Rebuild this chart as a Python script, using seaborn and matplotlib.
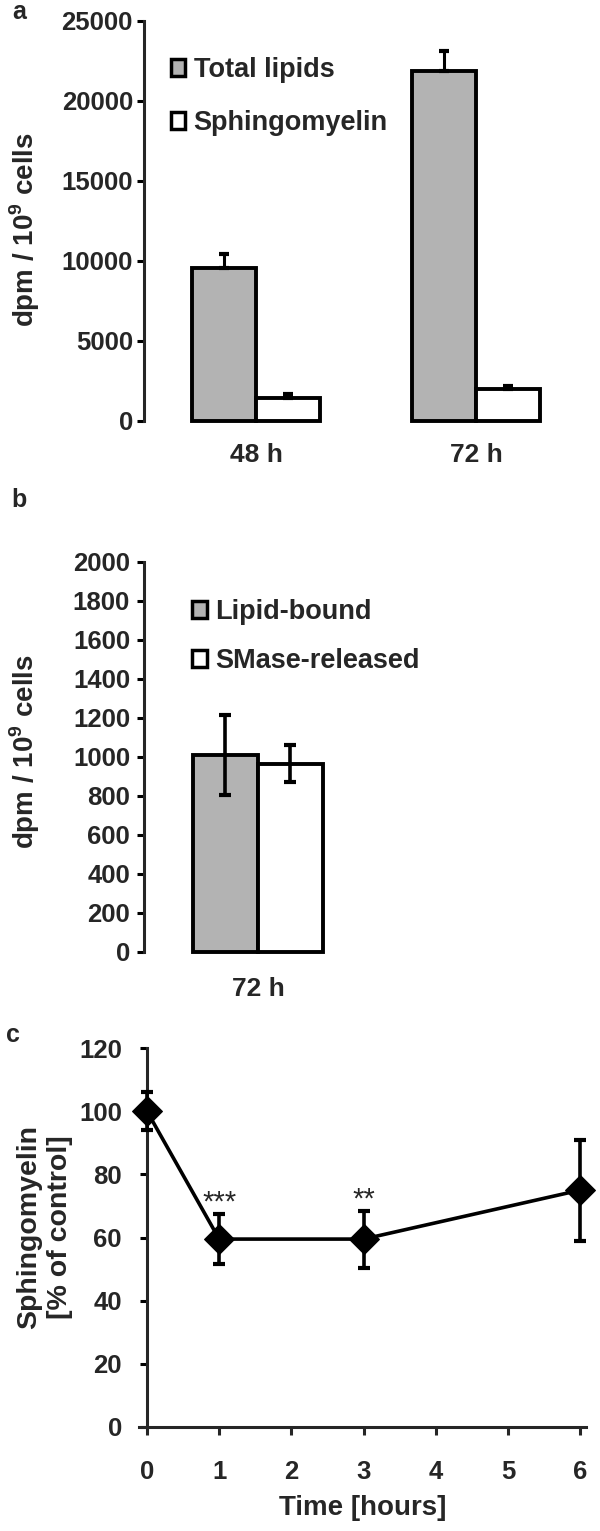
import numpy as np
import pandas as pd
import matplotlib
matplotlib.use("Agg")
import matplotlib.pyplot as plt
from matplotlib.patches import Patch
import seaborn as sns

# panel a: incorporation after 48 h and 72 h
times_a = ["48 h", "72 h"]
total_lipids = [9550, 21900]
total_lipids_err = [870, 1200]
sphingomyelin = [1430, 1970]
sphingomyelin_err = [250, 200]

# panel b: SMase treatment at 72 h
times_b = ["72 h"]
lipid_bound = [1010]
lipid_bound_err = [205]
smase_released = [965]
smase_released_err = [95]

# panel c: time course
hours = [0, 1, 3, 6]
sm_percent = [100, 59.5, 59.5, 75]
sm_percent_err = [6, 8, 9, 16]
stars = {1: "***", 3: "**"}

GRAY = "#b3b3b3"
W, H = 600, 1531
TICK_FS = 18.5

sns.set_style("ticks")
plt.rcParams["font.family"] = ["Liberation Sans", "DejaVu Sans"]
plt.rcParams["font.weight"] = "bold"
plt.rcParams["mathtext.fontset"] = "custom"
plt.rcParams["mathtext.rm"] = "Liberation Sans:bold"
plt.rcParams["mathtext.bf"] = "Liberation Sans:bold"
plt.rcParams["axes.linewidth"] = 2.2


def box(left, top, right, bottom):
    return [left / W, 1 - bottom / H, (right - left) / W, (bottom - top) / H]


def style_axis(ax, ypad):
    ax.tick_params(axis="y", direction="out", length=5, width=2.2,
                   labelsize=TICK_FS, pad=ypad, color="black")
    for lab in ax.get_yticklabels():
        lab.set_fontweight("bold")


fig = plt.figure(figsize=(W / 100, H / 100), dpi=100)

# ---------- a ----------
ax_a = fig.add_axes(box(144, 21, 586, 421))
df_a = pd.DataFrame({
    "time": times_a * 2,
    "value": total_lipids + sphingomyelin,
    "series": ["Total lipids"] * 2 + ["Sphingomyelin"] * 2,
})
sns.barplot(data=df_a, x="time", y="value", hue="series",
            palette=[GRAY, "white"], edgecolor="black", linewidth=2.8,
            width=0.58, gap=0, saturation=1, errorbar=None, legend=False,
            ax=ax_a)
for cont, errs in zip(ax_a.containers, [total_lipids_err, sphingomyelin_err]):
    for bar, e in zip(cont, errs):
        bar.set_clip_on(False)
        cx = bar.get_x() + bar.get_width() / 2
        ax_a.errorbar(cx, bar.get_height(), yerr=[[0], [e]], fmt="none",
                      ecolor="black", elinewidth=2.2, capsize=3.5,
                      capthick=3, zorder=1)
ax_a.set_xlim(-0.509, 1.5)
ax_a.set_ylim(0, 25000)
ax_a.set_yticks(range(0, 25001, 5000))
ax_a.set_xlabel("")
ax_a.set_ylabel("dpm / 10$^{9}$ cells", fontsize=20, fontweight="bold",
                va="center")
ax_a.yaxis.set_label_coords(-0.269, 0.4775)
sns.despine(ax=ax_a, bottom=True)
style_axis(ax_a, 3)
ax_a.tick_params(axis="x", length=0, labelsize=19, pad=16)
for lab in ax_a.get_xticklabels():
    lab.set_fontweight("bold")
ax_a.legend([Patch(facecolor=GRAY, edgecolor="black", linewidth=2.5),
             Patch(facecolor="white", edgecolor="black", linewidth=2.5)],
            ["Total lipids", "Sphingomyelin"], loc="upper left",
            bbox_to_anchor=(0.06, 0.91), frameon=False, handlelength=0.55,
            handleheight=0.55, handletextpad=0.3, labelspacing=1.0,
            borderpad=0, borderaxespad=0,
            prop={"size": 19.5, "weight": "bold"})

# ---------- b ----------
ax_b = fig.add_axes(box(144, 562, 586, 952))
df_b = pd.DataFrame({
    "time": times_b * 2,
    "value": lipid_bound + smase_released,
    "series": ["Lipid-bound", "SMase-released"],
})
sns.barplot(data=df_b, x="time", y="value", hue="series",
            palette=[GRAY, "white"], edgecolor="black", linewidth=2.8,
            width=0.6, gap=0, saturation=1, errorbar=None, legend=False,
            ax=ax_b)
for cont, errs in zip(ax_b.containers, [lipid_bound_err, smase_released_err]):
    for bar, e in zip(cont, errs):
        bar.set_clip_on(False)
        cx = bar.get_x() + bar.get_width() / 2
        ax_b.errorbar(cx, bar.get_height(), yerr=e, fmt="none",
                      ecolor="black", elinewidth=2.6, capsize=4,
                      capthick=3, zorder=4)
ax_b.set_xlim(-0.526, 1.514)
ax_b.set_ylim(0, 2000)
ax_b.set_yticks(range(0, 2001, 200))
ax_b.set_xlabel("")
ax_b.set_ylabel("dpm / 10$^{9}$ cells", fontsize=20, fontweight="bold",
                va="center")
ax_b.yaxis.set_label_coords(-0.27, 0.513)
sns.despine(ax=ax_b, bottom=True)
style_axis(ax_b, 5)
ax_b.tick_params(axis="x", length=0, labelsize=19, pad=18)
for lab in ax_b.get_xticklabels():
    lab.set_fontweight("bold")
ax_b.legend([Patch(facecolor=GRAY, edgecolor="black", linewidth=2.5),
             Patch(facecolor="white", edgecolor="black", linewidth=2.5)],
            ["Lipid-bound", "SMase-released"], loc="upper left",
            bbox_to_anchor=(0.108, 0.905), frameon=False, handlelength=0.55,
            handleheight=0.55, handletextpad=0.3, labelspacing=0.85,
            borderpad=0, borderaxespad=0,
            prop={"size": 19.5, "weight": "bold"})

# ---------- c ----------
ax_c = fig.add_axes(box(139, 1048, 586, 1427))
df_c = pd.DataFrame({"hours": hours, "sm": sm_percent})
sns.lineplot(data=df_c, x="hours", y="sm", color="black", linewidth=2.6,
             marker="D", markersize=15, markeredgecolor="black",
             errorbar=None, ax=ax_c, clip_on=False, zorder=5)
ax_c.errorbar(hours, sm_percent, yerr=sm_percent_err, fmt="none",
              ecolor="black", elinewidth=2.6, capsize=4, capthick=3,
              clip_on=False, zorder=4)
for h, s in stars.items():
    i = hours.index(h)
    ax_c.text(h, sm_percent[i] + sm_percent_err[i] - 1, s, ha="center",
              va="bottom", fontsize=21, fontweight="normal")
ax_c.set_xlim(-0.11, 6.08)
ax_c.set_ylim(0, 120)
ax_c.set_xticks(range(0, 7))
ax_c.set_yticks(range(0, 121, 20))
ax_c.spines["left"].set_position(("data", 0))
ax_c.set_xlabel("Time [hours]", fontsize=20, fontweight="bold", labelpad=8)
ax_c.set_ylabel("Sphingomyelin\n[% of control]", fontsize=20.5,
                fontweight="bold", va="center", linespacing=1.25)
ax_c.yaxis.set_label_coords(-0.211, 0.528)
sns.despine(ax=ax_c)
style_axis(ax_c, 13)
ax_c.tick_params(axis="x", direction="out", length=6, width=2.2,
                 labelsize=TICK_FS, pad=18)
for lab in ax_c.get_xticklabels():
    lab.set_fontweight("bold")

# panel letters
fig.text(12 / W, 1 - 12 / H, "a", fontsize=18, fontweight="bold", va="center")
fig.text(11 / W, 1 - 500 / H, "b", fontsize=18, fontweight="bold", va="center")
fig.text(6 / W, 1 - 1035 / H, "c", fontsize=18, fontweight="bold", va="center")

fig.savefig("out.png", dpi=100)
